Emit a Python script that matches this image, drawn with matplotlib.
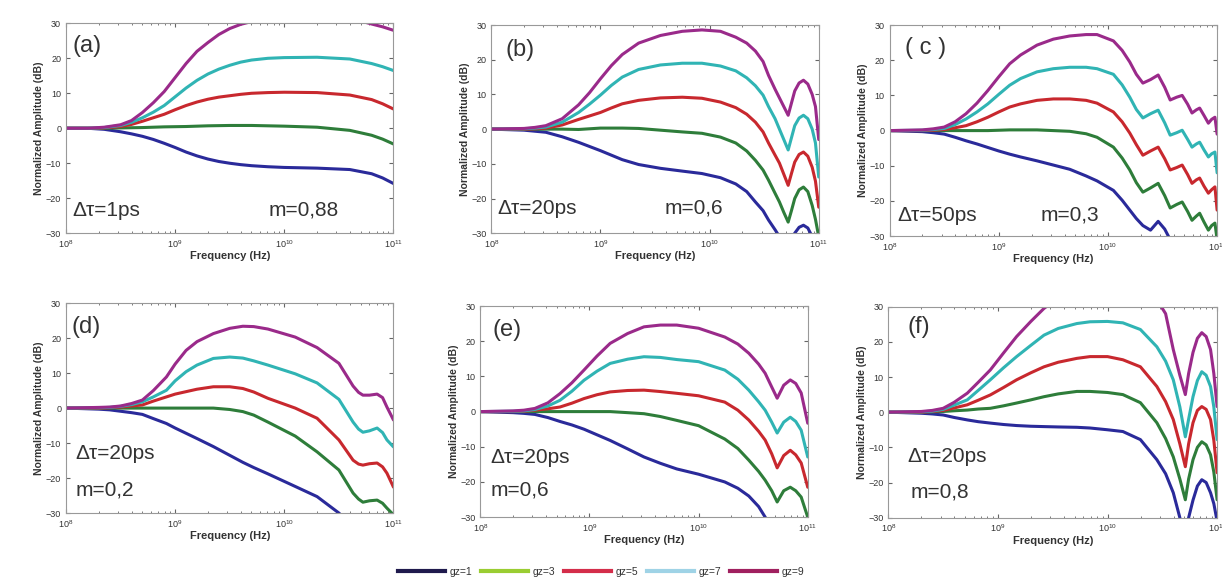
import numpy as np
import matplotlib
matplotlib.use('Agg')
from matplotlib import pyplot as plt
from matplotlib.lines import Line2D

plt.rcParams['font.family'] = ['Liberation Sans', 'DejaVu Sans']

labels = ['gz=1', 'gz=3', 'gz=5', 'gz=7', 'gz=9']

# frequency points as log10(Hz), values in dB
a_f = [8, 8.2, 8.35, 8.5, 8.6, 8.7, 8.8, 8.9, 9.0, 9.1, 9.2, 9.3, 9.4, 9.5, 9.6, 9.7, 9.85, 10, 10.3, 10.6, 10.8, 10.9, 11]
a_gz1 = [0, 0, -0.3, -1, -1.6, -2.3, -3.2, -4.3, -5.5, -6.8, -7.9, -8.8, -9.5, -10, -10.4, -10.7, -11, -11.2, -11.4, -11.8, -13, -14.2, -15.8]
a_gz3 = [0, 0, 0, 0.1, 0.15, 0.2, 0.3, 0.4, 0.45, 0.5, 0.6, 0.7, 0.75, 0.8, 0.8, 0.8, 0.7, 0.6, 0.3, -0.6, -2, -3.1, -4.5]
a_gz5 = [0, 0, 0.1, 0.5, 1.1, 2, 3, 4, 5.3, 6.5, 7.5, 8.3, 8.9, 9.3, 9.7, 10, 10.2, 10.3, 10.2, 9.5, 8.2, 7, 5.5]
a_gz7 = [0, 0, 0.2, 0.8, 1.7, 3, 4.6, 6.5, 9, 11.5, 13.7, 15.5, 16.9, 18, 18.9, 19.5, 20, 20.2, 20.3, 19.8, 18.5, 17.6, 16.5]
a_gz9 = [0, 0, 0.3, 1, 2.2, 4.5, 7.3, 10.5, 14.5, 18.5, 22, 24.5, 26.8, 28.5, 29.7, 30.5, 31.5, 32, 32, 31.5, 29.8, 29, 28]

b_f = [8, 8.3, 8.4, 8.5, 8.65, 8.8, 8.9, 9.0, 9.1, 9.2, 9.35, 9.55, 9.75, 9.93, 10.1, 10.24, 10.34, 10.42, 10.49,
       10.54, 10.6, 10.64, 10.68, 10.72, 10.75, 10.78, 10.82, 10.86, 10.9, 10.94, 10.97, 11.0]
b_gz1 = [0, -0.3, -0.6, -0.9, -2.2, -3.8, -5, -6.2, -7.5, -8.8, -10.2, -11.3, -12.1, -12.8, -14, -15.8, -18, -21, -23.5,
         -26.2, -29, -31, -33, -34, -32, -30, -28.3, -27.7, -28.5, -31, -35, -40]
b_gz3 = [0, 0, 0, 0, 0, -0.1, 0.1, 0.3, 0.3, 0.3, 0.2, -0.3, -0.8, -1.2, -2.3, -4, -6.3, -9, -11.8,
         -14.7, -18.5, -21, -24, -26.8, -23.5, -20, -17.5, -16.7, -18, -22, -26, -31]
b_gz5 = [0, 0, 0.1, 0.3, 1.2, 2.8, 3.8, 4.8, 6.1, 7.3, 8.3, 9, 9.2, 8.9, 7.8, 6.2, 4.3, 2, -0.8,
         -4, -7.5, -9.8, -13, -16.2, -12.8, -9.5, -7.3, -6.6, -7.8, -11, -15, -22.5]
b_gz7 = [0, 0.1, 0.3, 0.6, 2, 4.8, 7.2, 9.8, 12.6, 15, 17.2, 18.5, 19, 19, 18.2, 16.8, 14.8, 12.5, 9.8,
         6.5, 3, 0, -3, -6, -2.5, 1, 3.2, 4, 3, 0, -4, -13.8]
b_gz9 = [0, 0.2, 0.5, 1, 3, 7, 10.5, 14.5, 18.3, 21.5, 24.8, 27, 28.2, 28.6, 28.2, 26.5, 24.8, 22.5, 19.5,
         15.5, 11.5, 9, 6.5, 4, 7.5, 11, 13.3, 14.1, 13, 10, 6.5, -3]

c_f = [8, 8.3, 8.4, 8.5, 8.6, 8.7, 8.8, 8.9, 9.0, 9.1, 9.2, 9.35, 9.5, 9.65, 9.8, 9.9, 10.05, 10.13, 10.2, 10.26,
       10.32, 10.39, 10.46, 10.52, 10.57, 10.63, 10.68, 10.73, 10.77, 10.81, 10.84, 10.88, 10.92, 10.95, 10.98, 11.0]
c_gz1 = [0, -0.3, -0.6, -1, -1.9, -2.9, -3.8, -4.8, -5.8, -6.7, -7.5, -8.6, -9.8, -11, -12.9, -14.3, -17, -19.8, -22.6, -25,
         -27, -28.3, -25.8, -28, -31, -33, -32, -34, -36, -35, -35, -37, -38, -38, -37, -40]
c_gz3 = [0, 0, 0, 0, 0, 0, 0, 0, 0.1, 0.2, 0.2, 0.2, 0, -0.2, -0.9, -1.9, -4.7, -7.8, -11.2, -14.8,
         -17.5, -16.3, -15, -18.5, -22, -21, -20.3, -23, -25.5, -24.3, -23.5, -26, -28.3, -27, -26.3, -31]
c_gz5 = [0, 0, 0.1, 0.3, 0.8, 1.4, 2.5, 3.8, 5.3, 6.7, 7.6, 8.6, 9, 9, 8.6, 7.8, 5.3, 2.5, -0.7, -4,
         -7, -5.8, -4.7, -8, -11.2, -10.5, -9.8, -12.5, -15, -14, -13.5, -15.8, -17.8, -16.8, -16, -22.6]
c_gz7 = [0, 0.1, 0.3, 0.6, 1.7, 3.3, 5.3, 7.6, 10.3, 12.9, 14.8, 16.7, 17.6, 18, 18, 17.6, 16, 13, 9.5, 6,
         3.6, 4.8, 5.8, 2.2, -1.3, -0.6, 0.1, -2.5, -4.7, -3.8, -3.3, -5.5, -7.5, -6.6, -6.1, -12]
c_gz9 = [0, 0.2, 0.5, 1, 2.5, 4.8, 7.8, 11.4, 15.3, 19, 21.5, 24.3, 26, 26.9, 27.3, 27.3, 25.5, 22.8, 19.5, 16,
         13.5, 14.5, 15.8, 12.3, 8.7, 9.5, 10, 7.5, 5, 5.9, 6.4, 4.3, 2.1, 3.2, 3.8, -1]

d_f = [8, 8.3, 8.4, 8.5, 8.6, 8.7, 8.8, 8.92, 9.0, 9.1, 9.2, 9.35, 9.5, 9.62, 9.72, 9.85, 10.1, 10.3, 10.5,
       10.63, 10.68, 10.72, 10.78, 10.85, 10.9, 10.94, 11.0]
d_gz1 = [0, -0.3, -0.5, -0.9, -1.3, -1.8, -3, -4.4, -5.7, -7.2, -8.7, -11, -13.5, -15.5, -17, -18.8, -22.4, -25.3, -30,
         -34, -35.5, -37, -37.5, -38, -39, -40, -42]
d_gz3 = [0, 0, 0, 0, 0, 0, 0, 0, 0, 0, 0, 0, -0.4, -1, -2, -4, -8, -12.5, -17.7,
         -24.3, -26, -26.9, -26.5, -26.3, -27.2, -28.6, -30.5]
d_gz5 = [0, 0, 0.1, 0.3, 0.6, 0.9, 2, 3.2, 4, 4.7, 5.4, 6.1, 6.1, 5.6, 4.6, 2.8, 0, -2.9, -9.1,
         -14.9, -16, -16.3, -15.9, -15.7, -16.8, -18.6, -22.6]
d_gz7 = [0, 0.1, 0.2, 0.5, 1, 1.8, 3.2, 5.1, 7.8, 10.4, 12.3, 14.2, 14.6, 14.3, 13.5, 12.3, 9.8, 7.2, 2.5,
         -4, -6, -6.9, -6.5, -5.7, -7, -9.1, -11.1]
d_gz9 = [0, 0.2, 0.3, 0.6, 1.3, 2.3, 5, 8.9, 12.6, 16.5, 19, 21.3, 22.8, 23.4, 23.3, 22.6, 20.3, 17.3, 12.8,
         6.3, 4.5, 3.7, 3.7, 4, 3, 0.3, -3.4]

e_f = [8, 8.3, 8.4, 8.5, 8.62, 8.73, 8.84, 8.95, 9.07, 9.19, 9.35, 9.5, 9.65, 9.8, 10.0, 10.24, 10.36, 10.46,
       10.55, 10.61, 10.67, 10.72, 10.78, 10.84, 10.89, 10.94, 11.0]
e_gz1 = [0, -0.3, -0.5, -0.8, -1.7, -2.8, -3.8, -5, -6.6, -8.2, -10.6, -12.9, -14.7, -16.3, -17.8, -20, -21.8, -24,
         -27, -30, -33, -35, -36, -35, -36, -38, -42]
e_gz3 = [0, 0, 0, 0, 0, 0, 0, 0, 0, 0, -0.3, -0.6, -1.4, -2.5, -4, -7.8, -10.5, -13.8,
         -17, -19.5, -22.5, -25.7, -22.5, -21.5, -22.5, -24.3, -30]
e_gz5 = [0, 0, 0.1, 0.4, 0.8, 1.3, 2.4, 3.7, 4.8, 5.6, 6, 6.1, 5.7, 5.2, 4.5, 2.7, 0.4, -2.4,
         -5.6, -8.1, -12, -16, -12.5, -11, -12.3, -14.6, -21.5]
e_gz7 = [0, 0.1, 0.2, 0.6, 1.6, 3.2, 5.8, 8.9, 11.5, 13.7, 14.9, 15.6, 15.4, 14.8, 14.2, 11.8, 9.2, 6.1,
         2.8, 0.4, -3, -6.1, -3, -1.6, -2.8, -5.3, -12.9]
e_gz9 = [0, 0.2, 0.4, 0.9, 2.5, 5.1, 8.2, 11.8, 15.8, 19.4, 22.2, 24.1, 24.6, 24.6, 23.7, 21.2, 19.2, 16.6,
         13.5, 10.9, 7, 3.8, 7.5, 9, 8, 5.3, -3.3]

f_f = [8, 8.3, 8.4, 8.5, 8.6, 8.72, 8.82, 8.93, 9.05, 9.17, 9.3, 9.42, 9.55, 9.72, 9.84, 10.0, 10.14, 10.3, 10.45,
       10.53, 10.6, 10.66, 10.71, 10.74, 10.78, 10.82, 10.86, 10.9, 10.94, 10.97, 11.0]
f_gz1 = [0, -0.3, -0.5, -0.8, -1.5, -2.2, -2.7, -3.1, -3.5, -3.8, -4, -4.1, -4.2, -4.3, -4.5, -5, -5.5, -7.8, -13.5,
         -17.5, -22.9, -30, -40, -30, -25, -21, -19.2, -20, -22.9, -26, -31]
f_gz3 = [0, 0, 0.1, 0.2, 0.4, 0.6, 0.9, 1.1, 1.8, 2.6, 3.5, 4.4, 5.2, 5.9, 5.9, 5.6, 5, 2.7, -3,
         -7.5, -12.7, -19, -24.9, -19, -13.5, -10, -8.4, -9.3, -12.1, -17, -24.9]
f_gz5 = [0, 0, 0.2, 0.5, 1.2, 2.1, 3.4, 4.9, 7, 9.2, 11.2, 12.9, 14.2, 15.3, 15.8, 15.8, 14.9, 12.9, 7.3,
         3, -2.1, -9, -15.5, -9, -3, 0.5, 1.6, 0.8, -2.1, -8, -17.2]
f_gz7 = [0, 0.1, 0.3, 0.8, 2, 3.5, 6.2, 9.2, 12.6, 15.8, 19, 21.9, 23.8, 25.2, 25.7, 25.8, 25.4, 23.5, 18.6,
         14.5, 9.2, 1.5, -7, -2, 4.4, 9, 11.5, 10.5, 7.3, 1.5, -7.8]
f_gz9 = [0, 0.2, 0.5, 1.1, 2.8, 5.4, 8.5, 12, 16.8, 21.5, 25.8, 29.5, 32.5, 34.5, 35.3, 35.8, 35.5, 34, 32,
         28, 17.8, 10.5, 5, 11, 17, 21, 22.6, 21.5, 17.8, 11, 1.6]

panels = [
    ('(a)', 'Δτ=1ps', 'm=0,88', a_f, [a_gz1, a_gz3, a_gz5, a_gz7, a_gz9]),
    ('(b)', 'Δτ=20ps', 'm=0,6', b_f, [b_gz1, b_gz3, b_gz5, b_gz7, b_gz9]),
    ('( c )', 'Δτ=50ps', 'm=0,3', c_f, [c_gz1, c_gz3, c_gz5, c_gz7, c_gz9]),
    ('(d)', 'Δτ=20ps', 'm=0,2', d_f, [d_gz1, d_gz3, d_gz5, d_gz7, d_gz9]),
    ('(e)', 'Δτ=20ps', 'm=0,6', e_f, [e_gz1, e_gz3, e_gz5, e_gz7, e_gz9]),
    ('(f)', 'Δτ=20ps', 'm=0,8', f_f, [f_gz1, f_gz3, f_gz5, f_gz7, f_gz9]),
]

line_colors = ['#2a2a9a', '#2e7d3a', '#c8282e', '#30b4b4', '#9a2a8a']
legend_colors = ['#1f1a4d', '#9acd32', '#d42d4a', '#9fd3e6', '#a0205f']

# axes rectangles (fig fraction)
rects = [
    [0.054, 0.600, 0.268, 0.360],
    [0.402, 0.600, 0.268, 0.357],
    [0.728, 0.595, 0.268, 0.362],
    [0.054, 0.120, 0.268, 0.360],
    [0.393, 0.113, 0.268, 0.362],
    [0.727, 0.112, 0.269, 0.362],
]
# text positions in axes coords: panel tag, delta tau, m
text_pos = [
    ((0.02, 0.89), (0.02, 0.11), (0.62, 0.11)),
    ((0.043, 0.88), (0.02, 0.12), (0.53, 0.12)),
    ((0.046, 0.89), (0.025, 0.10), (0.46, 0.10)),
    ((0.018, 0.886), (0.028, 0.286), (0.028, 0.11)),
    ((0.037, 0.886), (0.03, 0.284), (0.03, 0.128)),
    ((0.058, 0.905), (0.058, 0.29), (0.067, 0.12)),
]

fig = plt.figure(figsize=(12.22, 5.83), dpi=100)

for i, (tag, dt, m, lf, curves) in enumerate(panels):
    ax = fig.add_axes(rects[i])
    freq = 10 ** np.array(lf)
    for y, c in zip(curves, line_colors):
        ax.plot(freq, y, color=c, lw=2.2, solid_capstyle='round', solid_joinstyle='round')
    ax.set_xscale('log')
    ax.set_xlim(1e8, 1e11)
    ax.set_ylim(-30, 30)
    ax.set_xticks([1e8, 1e9, 1e10, 1e11])
    ax.set_yticks([-30, -20, -10, 0, 10, 20, 30])
    ax.tick_params(which='both', direction='in', top=True, right=True,
                   labelsize=6.5, colors='#666666', labelcolor='#333333')
    ax.tick_params(which='major', length=3)
    ax.tick_params(which='minor', length=1.5)
    for s in ax.spines.values():
        s.set_color('#999999')
        s.set_linewidth(0.8)
    ax.set_xlabel('Frequency (Hz)', fontsize=8, fontweight='bold', labelpad=1, color='#333333')
    ax.set_ylabel('Normalized Amplitude (dB)', fontsize=7.5, fontweight='bold', labelpad=1, color='#333333')
    tp = text_pos[i]
    ax.text(tp[0][0], tp[0][1], tag, transform=ax.transAxes, fontsize=17, va='center', ha='left', color='#333333')
    ax.text(tp[1][0], tp[1][1], dt, transform=ax.transAxes, fontsize=15, va='center', ha='left', color='#333333')
    ax.text(tp[2][0], tp[2][1], m, transform=ax.transAxes, fontsize=15, va='center', ha='left', color='#333333')

handles = [Line2D([], [], color=c, lw=3) for c in legend_colors]
fig.legend(handles, labels, loc='center', bbox_to_anchor=(0.492, 0.019), ncol=5, frameon=False,
           fontsize=7.5, handlelength=4.5, columnspacing=0.8, handletextpad=0.5, labelcolor='#333333')

fig.savefig('out.png', dpi=100)
